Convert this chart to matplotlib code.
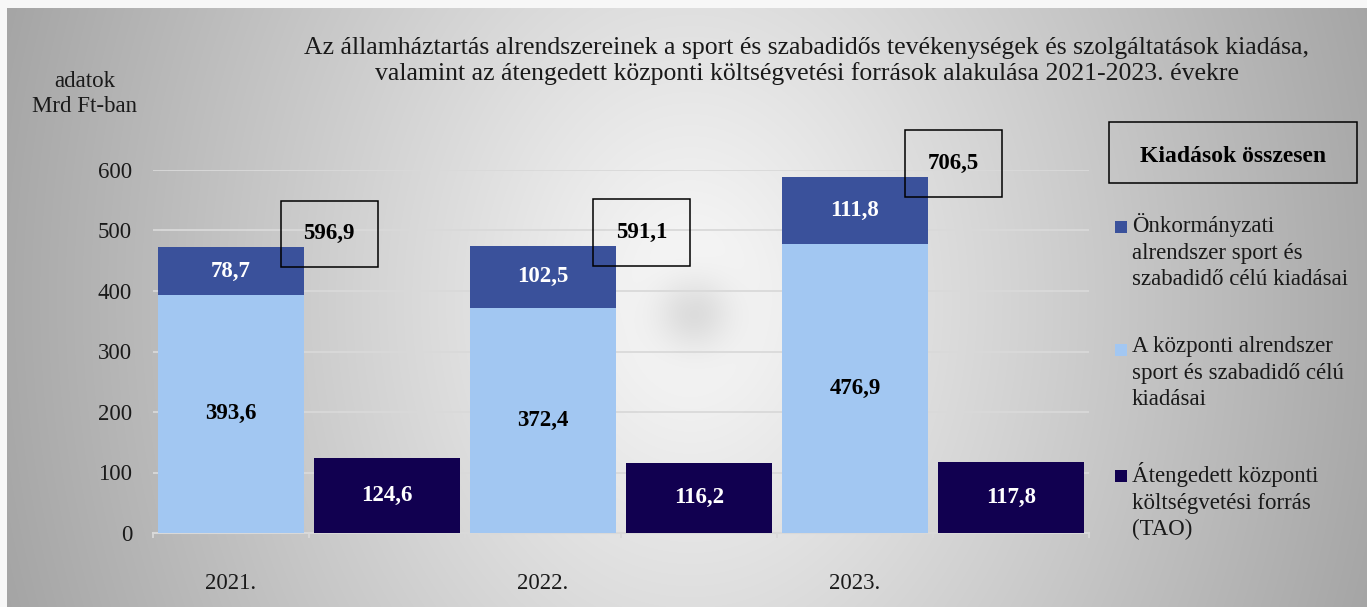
import matplotlib
matplotlib.use("Agg")
import matplotlib.pyplot as plt
import numpy as np
from matplotlib.patches import Rectangle

plt.rcParams["font.family"] = ["Liberation Serif", "DejaVu Serif"]

# data (Mrd Ft)
years = ["2021.", "2022.", "2023."]
kozponti = [393.6, 372.4, 476.9]
onkormanyzati = [78.7, 102.5, 111.8]
tao = [124.6, 116.2, 117.8]

labels = [
    "Önkormányzati\nalrendszer sport és\nszabadidő célú kiadásai",
    "A központi alrendszer\nsport és szabadidő célú\nkiadásai",
    "Átengedett központi\nköltségvetési forrás\n(TAO)",
]
title = ("Az államháztartás alrendszereinek a sport és szabadidős tevékenységek és szolgáltatások kiadása,\n"
         "valamint az átengedett központi költségvetési források alakulása 2021-2023. évekre")

c_dark = "#3a519b"
c_light = "#a2c7f2"
c_tao = "#110050"
c_grid = "#d9d9d9"

W, H = 1367, 607
fig = plt.figure(figsize=(W / 100, H / 100), dpi=100)

# background gradient
bg = fig.add_axes([0, 0, 1, 1], zorder=-10)
yy, xx = np.mgrid[0:H, 0:W]
r = np.sqrt(((xx - 690) / 690.0) ** 2 + ((yy - 300) / 900.0) ** 2)
v = 0.98 - 0.32 * r
v -= 0.11 * np.exp(-(((xx - 693) ** 2 + (yy - 312) ** 2) / (2 * 26.0 ** 2)))
v = np.clip(v, 0, 1)
v[:8, :] = 0.97
v[:, :7] = 0.97
bg.imshow(np.dstack([v, v, v]), extent=(0, W, H, 0), aspect="auto")
bg.set_xlim(0, W)
bg.set_ylim(H, 0)
bg.axis("off")

ax = fig.add_axes([153 / W, 1 - 533 / H, (1089 - 153) / W, (533 - 170) / H])
ax.patch.set_alpha(0)

n = len(years)
x_stack = np.arange(n) * 2
x_tao = x_stack + 1
bw = 0.94

ax.bar(x_stack, kozponti, bw, color=c_light, zorder=3)
ax.bar(x_stack, onkormanyzati, bw, bottom=kozponti, color=c_dark, zorder=3)
ax.bar(x_tao, tao, bw, color=c_tao, zorder=3)

fs = 16.5
fmt = lambda val: f"{val:.1f}".replace(".", ",")
for i in range(n):
    ax.text(x_stack[i], kozponti[i] / 2, fmt(kozponti[i]), ha="center", va="center",
            fontsize=fs, fontweight="bold", color="black", zorder=5)
    ax.text(x_stack[i], kozponti[i] + onkormanyzati[i] / 2, fmt(onkormanyzati[i]),
            ha="center", va="center", fontsize=fs, fontweight="bold", color="white", zorder=5)
    ax.text(x_tao[i], tao[i] / 2, fmt(tao[i]), ha="center", va="center",
            fontsize=fs, fontweight="bold", color="white", zorder=5)
    total = kozponti[i] + onkormanyzati[i] + tao[i]
    ax.text(x_stack[i] + 0.63, kozponti[i] + onkormanyzati[i] + 22, fmt(total),
            ha="center", va="center", fontsize=fs, fontweight="bold", color="black", zorder=6,
            bbox=dict(boxstyle="square,pad=1.0", facecolor="none", edgecolor="black", linewidth=1.1))

ax.set_xlim(-0.5, 2 * n - 0.5)
ax.set_ylim(0, 600)
ax.set_yticks(np.arange(0, 601, 100))
ax.yaxis.grid(True, color=c_grid, linewidth=1.3, zorder=0)
ax.set_axisbelow(True)
ax.tick_params(axis="y", length=0, labelsize=fs, pad=15, labelcolor="#1a1a1a")

ax.set_xticks(x_stack)
ax.set_xticklabels(years)
ax.set_xticks(np.arange(-0.5, 2 * n, 1), minor=True)
ax.tick_params(axis="x", which="major", length=0, labelsize=fs, pad=29, labelcolor="#1a1a1a")
ax.tick_params(axis="x", which="minor", length=3.6, width=1.3, color=c_grid)

for s in ["top", "right", "left"]:
    ax.spines[s].set_visible(False)
ax.spines["bottom"].set_color(c_grid)
ax.spines["bottom"].set_linewidth(1.5)

# titles
fig.text(807 / W, 1 - 61 / H, title, ha="center", va="center", fontsize=18.5,
         linespacing=1.2, color="#1a1a1a")
fig.text(85 / W, 1 - 94 / H, "adatok\nMrd Ft-ban", ha="center", va="center",
         fontsize=fs, linespacing=1.3, color="#1a1a1a")

# "Kiadások összesen" box
fig.patches.append(Rectangle((1109 / W, 1 - 183 / H), 248 / W, 61 / H, transform=fig.transFigure,
                             facecolor="none", edgecolor="black", linewidth=1.1))
fig.text(1233 / W, 1 - 157 / H, "Kiadások összesen", ha="center", va="center",
         fontsize=17, fontweight="bold", color="black")

# legend
leg_colors = [c_dark, c_light, c_tao]
leg_y = [227, 350, 476]
for col, lab, yc in zip(leg_colors, labels, leg_y):
    fig.patches.append(Rectangle((1115 / W, 1 - (yc + 6) / H), 12 / W, 12 / H,
                                 transform=fig.transFigure, facecolor=col, edgecolor="none"))
    fig.text(1132 / W, 1 - (yc - 14) / H, lab, ha="left", va="top", fontsize=fs,
             linespacing=1.35, color="#1a1a1a")

fig.savefig("out.png", dpi=100)
